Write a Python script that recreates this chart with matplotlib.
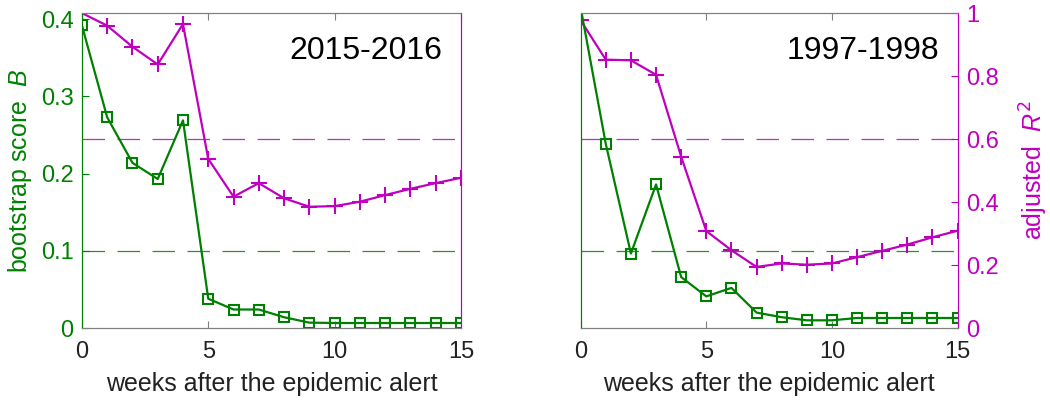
import numpy as np
import matplotlib
matplotlib.use('Agg')
import matplotlib.pyplot as plt

plt.rcParams['font.family'] = ['Liberation Sans', 'DejaVu Sans']
plt.rcParams['mathtext.fontset'] = 'custom'
plt.rcParams['mathtext.it'] = 'Liberation Sans:italic'
plt.rcParams['mathtext.rm'] = 'Liberation Sans'

# 数据
weeks = np.arange(16)
b_2015 = [0.392, 0.273, 0.214, 0.193, 0.269, 0.038, 0.024, 0.024, 0.014, 0.007,
          0.0065, 0.0065, 0.0065, 0.0065, 0.0065, 0.0065]
r2_2015 = [1.0, 0.96, 0.893, 0.837, 0.965, 0.537, 0.417, 0.46, 0.412, 0.385,
           0.387, 0.401, 0.422, 0.442, 0.46, 0.477]
b_1997 = [0.415, 0.2385, 0.0965, 0.186, 0.066, 0.041, 0.052, 0.020, 0.014, 0.010,
          0.010, 0.013, 0.013, 0.013, 0.013, 0.013]
r2_1997 = [0.977, 0.852, 0.85, 0.804, 0.544, 0.308, 0.247, 0.194, 0.205, 0.201,
           0.205, 0.225, 0.245, 0.265, 0.288, 0.309]
b_thresh = 0.1
r2_thresh = 0.6
seasons = ['2015-2016', '1997-1998']

green = '#008000'
magenta = '#bf00bf'
gray = '#7f7f7f'
B_MAX = 0.408

fig = plt.figure(figsize=(10.5, 4.08), dpi=100)
rects = [[0.078, 0.196, 0.361, 0.772], [0.553, 0.196, 0.359, 0.772]]
data = [(b_2015, r2_2015), (b_1997, r2_1997)]

for i, (rect, (b, r2), season) in enumerate(zip(rects, data, seasons)):
    ax = fig.add_axes(rect)
    ax2 = ax.twinx()
    ax.set_zorder(ax2.get_zorder() + 1)
    ax.patch.set_visible(False)

    ax.axhline(b_thresh, color=green, lw=0.9, ls=(0, (18, 10)), alpha=0.85)
    ax2.axhline(r2_thresh, color=magenta, lw=0.9, ls=(0, (18, 10)), alpha=0.85)

    ax.plot(weeks, b, color=green, lw=1.6, marker='s', ms=7.5, mfc='none', mew=1.5)
    ax2.plot(weeks, r2, color=magenta, lw=1.6, marker='+', ms=11, mew=1.5)

    ax.set_xlim(0, 15)
    ax.set_ylim(0, B_MAX)
    ax2.set_ylim(0, 1)
    ax.set_xticks([0, 5, 10, 15])

    for a in (ax, ax2):
        a.spines['top'].set_color(gray)
        a.spines['bottom'].set_color(gray)
        a.spines['left'].set_color(green)
        a.spines['right'].set_color(magenta)
    ax.tick_params(axis='x', direction='in', top=True, length=5, color=gray,
                   labelsize=17, labelcolor='#222222', pad=9)
    ax.tick_params(axis='y', direction='in', length=5, color=green,
                   labelcolor=green, labelsize=17, pad=6)
    ax2.tick_params(axis='y', direction='in', length=5, color=magenta,
                    labelcolor=magenta, labelsize=17, pad=6)
    ax.set_xlabel('weeks after the epidemic alert', fontsize=18, color='#222222',
                  labelpad=7)

    if i == 0:
        ax.set_yticks([0, 0.1, 0.2, 0.3, 0.4])
        ax.set_yticklabels(['0', '0.1', '0.2', '0.3', '0.4'])
        ax.set_ylabel('bootstrap score  $B$', color=green, fontsize=18, labelpad=5)
        ax2.set_yticks([])
    else:
        ax.set_yticks([])
        ax2.set_yticks([0, 0.2, 0.4, 0.6, 0.8, 1])
        ax2.set_yticklabels(['0', '0.2', '0.4', '0.6', '0.8', '1'])
        ax2.set_ylabel('adjusted  $R^{\\mathsf{2}}$', color=magenta, fontsize=18,
                       labelpad=14)

    ax.text(0.95, 0.88, season, transform=ax.transAxes, ha='right', va='center',
            fontsize=23, color='black')

plt.savefig('out.png', dpi=100)
